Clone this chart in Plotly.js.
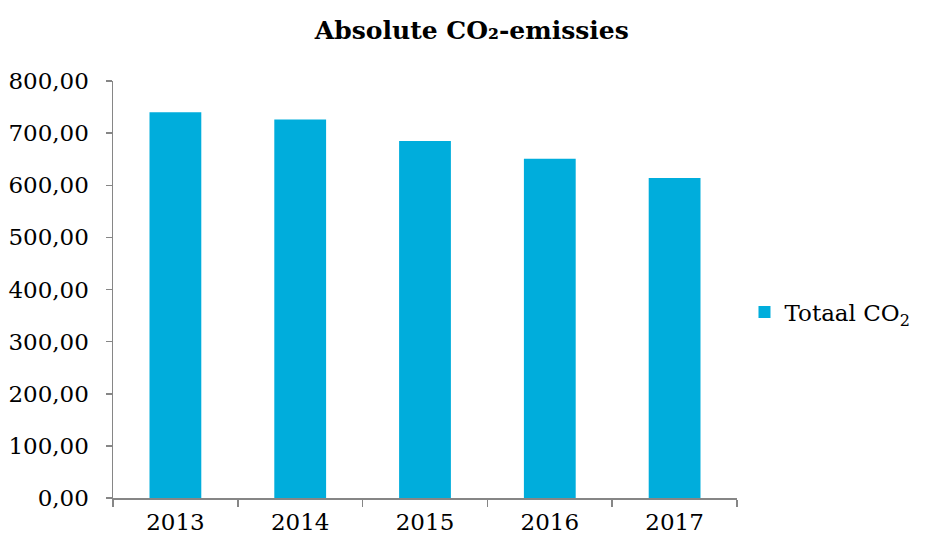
<!DOCTYPE html>
<html>
<head>
<meta charset="utf-8">
<script src="https://cdn.plot.ly/plotly-3.0.1.min.js"></script>
<style>html,body{margin:0;padding:0;background:#fff}#chart{width:927px;height:543px}</style>
</head>
<body>
<div id="chart"></div>
<script>
const years = ["2013", "2014", "2015", "2016", "2017"];
const totaalCO2 = [740, 726, 685, 651, 614];
const seriesName = "Totaal CO<sub>2</sub>";
const yTicks = [0, 100, 200, 300, 400, 500, 600, 700, 800];

const font = "DejaVu Serif, Liberation Serif, serif";
const axisColor = "#868686";

Plotly.newPlot("chart", [{
  type: "bar",
  x: years,
  y: totaalCO2,
  name: seriesName,
  marker: {color: "#00ADDC"},
  showlegend: true
}], {
  width: 927, height: 543,
  margin: {l: 113, r: 187, t: 81, b: 45},
  paper_bgcolor: "#fff", plot_bgcolor: "#fff",
  separators: ",.",
  bargap: 0.585,
  title: {text: "<b>Absolute CO₂-emissies</b>", font: {family: font, size: 25, color: "#000"},
          xref: "container", x: 0.509, xanchor: "center", yref: "container", y: 0.945, yanchor: "middle"},
  xaxis: {
    type: "category",
    showline: true, linecolor: axisColor, linewidth: 1.5,
    ticks: "outside", tickson: "boundaries", ticklen: 7, tickcolor: axisColor, tickwidth: 1.5,
    tickfont: {family: font, size: 23, color: "#000"},
    ticklabelstandoff: 3,
    showgrid: false, zeroline: false
  },
  yaxis: {
    range: [0, 800], tickvals: yTicks, tickformat: ".2f",
    showline: true, linecolor: axisColor, linewidth: 1.5,
    ticks: "outside", ticklen: 6, tickcolor: axisColor, tickwidth: 1.5,
    tickfont: {family: font, size: 23, color: "#000"},
    ticklabelstandoff: 12,
    showgrid: false, zeroline: false
  },
  legend: {x: 1.012, xanchor: "left", y: 0.446, yanchor: "middle",
           font: {family: font, size: 23, color: "#000"}, itemwidth: 30}
}, {displayModeBar: false, staticPlot: true});
</script>
</body>
</html>
